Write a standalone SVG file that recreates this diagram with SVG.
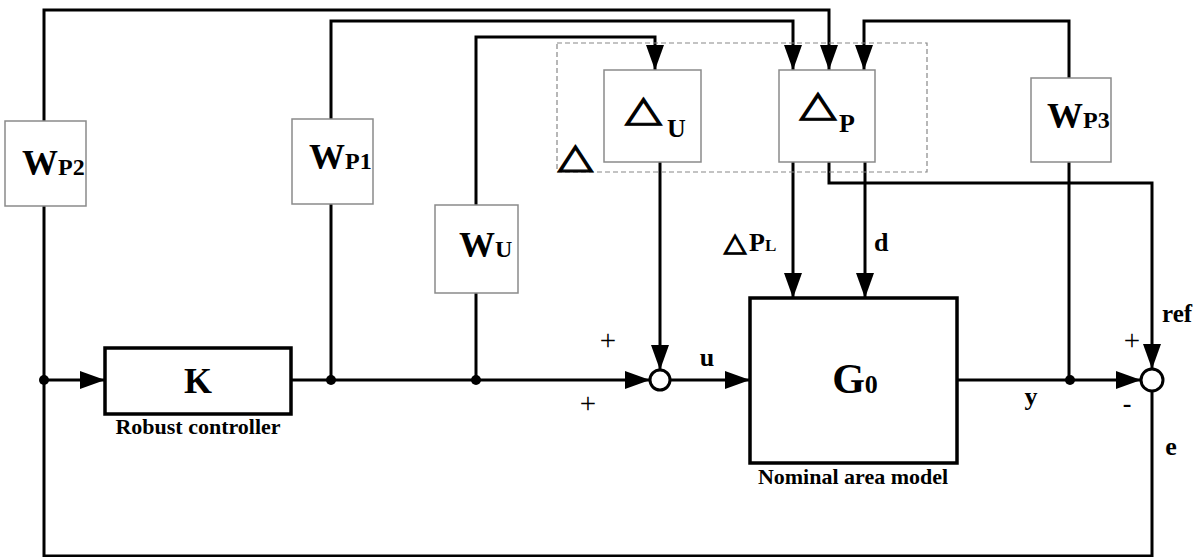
<svg xmlns="http://www.w3.org/2000/svg" width="1198" height="557" viewBox="0 0 1198 557">
<style>
.ln{fill:none;stroke:#000;stroke-width:3}
.lnA{fill:none;stroke:#000;stroke-width:3;marker-end:url(#ah)}
.wb{fill:#fff;stroke:#8a8a8a;stroke-width:1.5}
.kb{fill:#fff;stroke:#000;stroke-width:3.5}
.t{font-family:'Liberation Serif',serif;font-weight:bold;fill:#000}
.tr{font-family:'DejaVu Sans',sans-serif;fill:#000;stroke:#000;stroke-width:1.2;text-anchor:middle}
.pm{font-family:'Liberation Serif',serif;fill:#000;font-size:29px;text-anchor:middle}
</style>
<defs>
<marker id="ah" markerUnits="userSpaceOnUse" markerWidth="26" markerHeight="18" refX="25" refY="9" orient="auto">
<path d="M0,0 L25,9 L0,18 z" fill="#000"/>
</marker>
</defs>
<rect x="0" y="0" width="1198" height="557" fill="#fff"/>

<g id="connectors">
<polyline class="lnA" points="44,121 44,10 829,10 829,70"/>
<polyline class="lnA" points="331,119 331,21 793,21 793,70"/>
<polyline class="lnA" points="476,205 476,37 655,37 655,70"/>
<polyline class="lnA" points="1069,78 1069,21 864,21 864,70"/>
<polyline class="ln" points="44,206 44,556 1152,556 1152,391"/>
<line class="lnA" x1="44" y1="380" x2="105" y2="380"/>
<line class="lnA" x1="291" y1="380" x2="650" y2="380"/>
<line class="ln" x1="331" y1="204" x2="331" y2="380"/>
<line class="ln" x1="476" y1="293" x2="476" y2="380"/>
<line class="lnA" x1="660" y1="162" x2="660" y2="370"/>
<line class="lnA" x1="670" y1="380" x2="750" y2="380"/>
<line class="lnA" x1="793" y1="162" x2="793" y2="298"/>
<line class="lnA" x1="865" y1="162" x2="865" y2="298"/>
<polyline class="lnA" points="829,162 829,183 1152,183 1152,369"/>
<line class="lnA" x1="957" y1="380" x2="1141" y2="380"/>
<line class="ln" x1="1069" y1="162" x2="1069" y2="380"/>
<circle cx="44" cy="380" r="5"/>
<circle cx="331" cy="380" r="5"/>
<circle cx="476" cy="380" r="5"/>
<circle cx="1070" cy="380" r="5"/>
</g>

<g id="delta-group">
<rect x="557" y="43" width="370" height="129" fill="none" stroke="#888" stroke-width="1.2" stroke-dasharray="5,3"/>
<text class="tr" style="font-family:'DejaVu Sans',sans-serif" transform="translate(575.5,168) scale(1.15,0.88)" font-size="40">△</text>
</g>

<g style="font-family:'Liberation Serif',serif">
<g id="WP2">
<rect class="wb" x="5" y="121" width="81" height="85"/>
<text class="t" x="22" y="175" font-size="36">W<tspan font-size="24">P2</tspan></text>
</g>
<g id="WP1">
<rect class="wb" x="292" y="119" width="81" height="85"/>
<text class="t" x="309" y="169" font-size="36">W<tspan font-size="24">P1</tspan></text>
</g>
<g id="WU">
<rect class="wb" x="435" y="205" width="83" height="88"/>
<text class="t" x="459" y="257" font-size="36">W<tspan font-size="24">U</tspan></text>
</g>
<g id="WP3">
<rect class="wb" x="1031" y="78" width="80" height="84"/>
<text class="t" x="1047" y="128" font-size="36">W<tspan font-size="24">P3</tspan></text>
</g>
<g id="DeltaU">
<rect class="wb" x="604" y="70" width="97" height="92"/>
<text class="tr" style="font-family:'DejaVu Sans',sans-serif" transform="translate(643.5,121) scale(1.2,0.9)" font-size="40">△</text>
<text class="t" x="667" y="137" font-size="26">U</text>
</g>
<g id="DeltaP">
<rect class="wb" x="779" y="70" width="96" height="92"/>
<text class="tr" style="font-family:'DejaVu Sans',sans-serif" transform="translate(818,116) scale(1.2,0.9)" font-size="40">△</text>
<text class="t" x="839" y="132" font-size="26">P</text>
</g>
<g id="K">
<rect class="kb" x="105" y="348" width="186" height="66"/>
<text class="t" x="198" y="393" font-size="36" text-anchor="middle">K</text>
<text class="t" x="198" y="434" font-size="22" text-anchor="middle">Robust controller</text>
</g>
<g id="G0">
<rect class="kb" x="750" y="298" width="207" height="165"/>
<text class="t" x="855" y="393" font-size="42" text-anchor="middle">G<tspan font-size="26">0</tspan></text>
<text class="t" x="853" y="484" font-size="22" text-anchor="middle">Nominal area model</text>
</g>
<g id="sum1">
<circle cx="660" cy="380" r="10" fill="#fff" stroke="#000" stroke-width="3"/>
</g>
<g id="sum2">
<circle cx="1152" cy="380" r="11" fill="#fff" stroke="#000" stroke-width="3"/>
</g>

<g id="labels">
<text class="pm" x="608" y="350">+</text>
<text class="pm" x="588" y="413">+</text>
<text class="t" x="707" y="366" font-size="26" text-anchor="middle">u</text>
<text class="tr" style="font-family:'DejaVu Sans',sans-serif" transform="translate(735,251) scale(1.05,0.92)" font-size="28">△</text>
<text class="t" x="749" y="251" font-size="26">P<tspan font-size="17">L</tspan></text>
<text class="t" x="874" y="251" font-size="26">d</text>
<text class="t" x="1031" y="405" font-size="26" text-anchor="middle">y</text>
<text class="t" x="1162" y="322" font-size="25">ref</text>
<text class="pm" x="1132" y="350">+</text>
<text class="t" x="1127" y="412" font-size="26" text-anchor="middle">-</text>
<text class="t" x="1171" y="455" font-size="26" text-anchor="middle">e</text>
</g>
</g>
</svg>
